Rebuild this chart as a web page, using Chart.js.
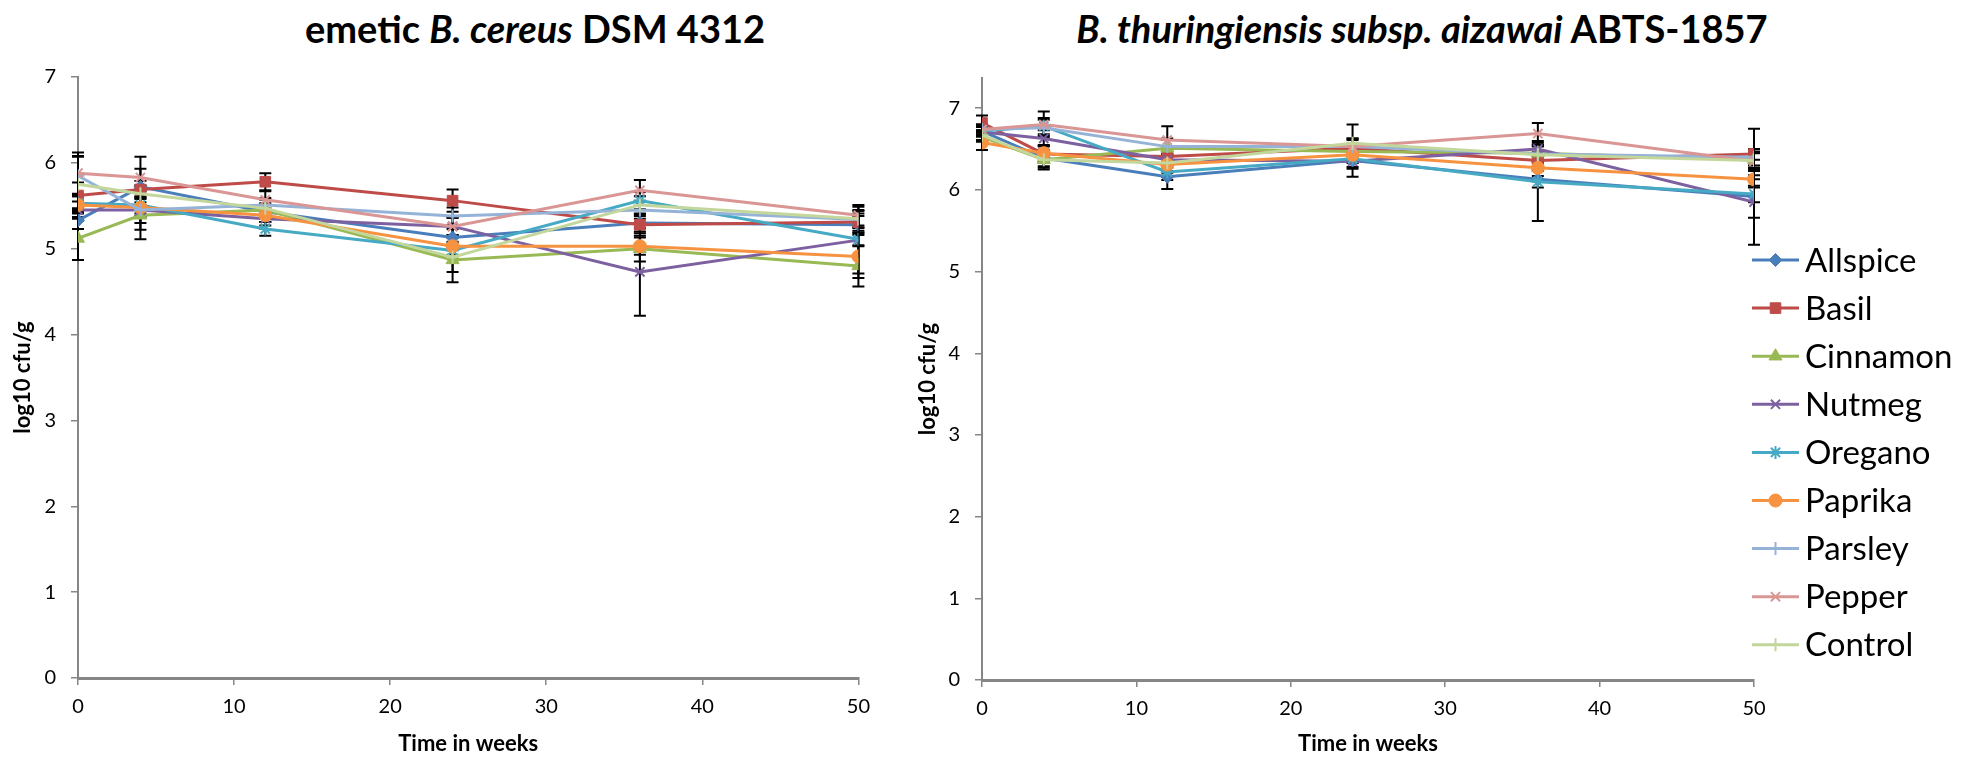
<!DOCTYPE html>
<html><head><meta charset="utf-8">
<script src="https://cdn.jsdelivr.net/npm/chart.js@4.4.1/dist/chart.umd.min.js"></script>
<style>
html,body{margin:0;padding:0;background:#fff;width:1980px;height:757px;overflow:hidden;}
#wrap{position:relative;width:1980px;height:757px;}
.title{position:absolute;top:5px;font-family:Lato,"Open Sans",sans-serif;font-weight:bold;font-size:38px;line-height:46px;white-space:nowrap;transform:translateX(-50%);color:#000;}
canvas{position:absolute;top:0;}
</style></head><body>
<div id="wrap">
<div class="title" style="left:535px">emetic <i>B. cereus</i> DSM 4312</div>
<div class="title" style="left:1422px"><i>B. thuringiensis subsp. aizawai</i> ABTS-1857</div>
<canvas id="c1" width="880" height="757" style="left:0;width:880px;height:757px"></canvas>
<canvas id="c2" width="1100" height="757" style="left:880px;width:1100px;height:757px"></canvas>
</div>
<script>
// ---- data ----
const weeks = [0, 4, 12, 24, 36, 50];
const seriesNames = ['Allspice','Basil','Cinnamon','Nutmeg','Oregano','Paprika','Parsley','Pepper','Control'];
const xTicks = [0, 10, 20, 30, 40, 50];
const yTicks = [0, 1, 2, 3, 4, 5, 6, 7];

// emetic B. cereus DSM 4312 (log10 cfu/g)
const cerAllspice = [5.33, 5.72, 5.43, 5.13, 5.30, 5.28];
const cerBasil    = [5.62, 5.69, 5.78, 5.56, 5.28, 5.31];
const cerCinnamon = [5.12, 5.39, 5.45, 4.87, 5.00, 4.80];
const cerNutmeg   = [5.45, 5.45, 5.35, 5.26, 4.73, 5.10];
const cerOregano  = [5.53, 5.51, 5.23, 4.98, 5.56, 5.11];
const cerPaprika  = [5.51, 5.48, 5.39, 5.03, 5.03, 4.91];
const cerParsley  = [5.85, 5.45, 5.51, 5.38, 5.45, 5.34];
const cerPepper   = [5.88, 5.83, 5.57, 5.26, 5.68, 5.39];
const cerControl  = [5.75, 5.64, 5.47, 4.90, 5.51, 5.35];
// error bars (+/-)
const cerAllspiceErr = [0.10, 0.35, 0.08, 0.10, 0.10, 0.10];
const cerBasilErr    = [0.15, 0.10, 0.10, 0.13, 0.10, 0.10];
const cerCinnamonErr = [0.25, 0.28, 0.08, 0.26, 0.15, 0.24];
const cerNutmegErr   = [0.10, 0.23, 0.08, 0.10, 0.51, 0.39];
const cerOreganoErr  = [0.08, 0.10, 0.08, 0.10, 0.10, 0.08];
const cerPaprikaErr  = [0.10, 0.10, 0.08, 0.10, 0.10, 0.25];
const cerParsleyErr  = [0.22, 0.15, 0.08, 0.10, 0.10, 0.10];
const cerPepperErr   = [0.24, 0.10, 0.10, 0.10, 0.12, 0.12];
const cerControlErr  = [0.33, 0.10, 0.10, 0.17, 0.10, 0.10];

// B. thuringiensis subsp. aizawai ABTS-1857 (log10 cfu/g)
const btAllspice = [6.72, 6.39, 6.16, 6.36, 6.13, 5.92];
const btBasil    = [6.82, 6.44, 6.41, 6.51, 6.36, 6.44];
const btCinnamon = [6.65, 6.37, 6.51, 6.47, 6.45, 6.37];
const btNutmeg   = [6.71, 6.63, 6.37, 6.35, 6.50, 5.85];
const btOregano  = [6.72, 6.78, 6.22, 6.38, 6.10, 5.95];
const btPaprika  = [6.58, 6.45, 6.31, 6.43, 6.27, 6.13];
const btParsley  = [6.74, 6.76, 6.53, 6.53, 6.44, 6.40];
const btPepper   = [6.74, 6.80, 6.61, 6.53, 6.69, 6.35];
const btControl  = [6.67, 6.37, 6.33, 6.57, 6.43, 6.36];
const btAllspiceErr = [0.06, 0.10, 0.15, 0.10, 0.10, 0.26];
const btBasilErr    = [0.09, 0.10, 0.10, 0.10, 0.10, 0.31];
const btCinnamonErr = [0.06, 0.12, 0.10, 0.10, 0.10, 0.10];
const btNutmegErr   = [0.06, 0.10, 0.10, 0.19, 0.10, 0.52];
const btOreganoErr  = [0.06, 0.10, 0.10, 0.10, 0.48, 0.10];
const btPaprikaErr  = [0.09, 0.10, 0.10, 0.10, 0.10, 0.10];
const btParsleyErr  = [0.06, 0.10, 0.10, 0.10, 0.10, 0.10];
const btPepperErr   = [0.06, 0.16, 0.17, 0.10, 0.13, 0.10];
const btControlErr  = [0.06, 0.10, 0.10, 0.23, 0.10, 0.10];

// ---- styles ----
const colors = ['#4A7EBB','#BE4B48','#98B954','#7D60A0','#46AAC5','#F69240','#95B3D7','#D99694','#C3D69B'];
const markers = ['rectRot','rect','triangle','crossRot','star','circle','cross','crossRot','cross'];
const radii = [6.5, 7.5, 7.5, 6.5, 6.5, 6.5, 6.5, 6.5, 6.5];
const FONT = 'Lato, "Open Sans", sans-serif';

function makeSets(vals, errs){
  return vals.map((v, i) => ({
    label: seriesNames[i],
    data: weeks.map((w, j) => ({x: w, y: v[j]})),
    errors: errs[i],
    borderColor: colors[i],
    backgroundColor: colors[i],
    pointBackgroundColor: colors[i],
    pointBorderColor: colors[i],
    pointStyle: markers[i],
    pointRadius: radii[i],
    pointBorderWidth: (markers[i]==='cross'||markers[i]==='crossRot'||markers[i]==='star') ? 2 : 1,
    borderWidth: 3,
    tension: 0,
    order: seriesNames.length - i
  }));
}

const errorBarPlugin = {
  id: 'errbars',
  beforeDatasetsDraw(chart){
    const ctx = chart.ctx, xs = chart.scales.x, ys = chart.scales.y;
    ctx.save();
    ctx.strokeStyle = '#000'; ctx.lineWidth = 2;
    chart.data.datasets.forEach(ds => {
      ds.data.forEach((p, i) => {
        const e = ds.errors[i]; if (!e) return;
        const x = xs.getPixelForValue(p.x);
        const y1 = ys.getPixelForValue(p.y + e), y2 = ys.getPixelForValue(p.y - e);
        ctx.beginPath();
        ctx.moveTo(x, y1); ctx.lineTo(x, y2);
        ctx.moveTo(x - 6, y1); ctx.lineTo(x + 6, y1);
        ctx.moveTo(x - 6, y2); ctx.lineTo(x + 6, y2);
        ctx.stroke();
      });
    });
    ctx.restore();
  }
};

const sideLegendPlugin = {
  id: 'sideLegend',
  afterDraw(chart, args, opts){
    if (!opts || !opts.show) return;
    const ctx = chart.ctx;
    ctx.save();
    chart.data.datasets.forEach((ds, i) => {
      const y = opts.y0 + i * opts.dy;
      ctx.strokeStyle = ds.borderColor; ctx.lineWidth = 3;
      ctx.beginPath(); ctx.moveTo(opts.x0, y); ctx.lineTo(opts.x0 + opts.len, y); ctx.stroke();
      ctx.fillStyle = ds.borderColor; ctx.strokeStyle = ds.borderColor;
      ctx.lineWidth = ds.pointBorderWidth;
      Chart.helpers.drawPoint(ctx, {pointStyle: ds.pointStyle, radius: ds.pointRadius, borderWidth: ds.pointBorderWidth, rotation: 0}, opts.x0 + opts.len/2, y);
      ctx.fillStyle = '#000';
      ctx.font = opts.font;
      ctx.textBaseline = 'middle'; ctx.textAlign = 'left';
      ctx.fillText(ds.label, opts.x0 + opts.len + 6, y + 1);
    });
    ctx.restore();
  }
};

function makeChart(id, vals, errs, cfg){
  return new Chart(document.getElementById(id), {
    type: 'line',
    data: { datasets: makeSets(vals, errs) },
    plugins: [errorBarPlugin, sideLegendPlugin],
    options: {
      responsive: false, animation: false, devicePixelRatio: 1,
      layout: { padding: cfg.padding },
      plugins: {
        legend: { display: false }, tooltip: { enabled: false },
        sideLegend: cfg.legend || { show: false }
      },
      scales: {
        x: {
          type: 'linear', min: 0, max: 50,
          afterBuildTicks: s => { s.ticks = xTicks.map(v => ({value: v})); },
          afterFit: s => { s.height = cfg.xHeight; },
          grid: { display: true, drawOnChartArea: false, drawTicks: true, tickLength: 7, color: '#868686', lineWidth: 1.5 },
          border: { display: true, color: '#868686', width: 3 },
          ticks: { color: '#000', font: { family: FONT, size: 20 }, padding: 10, maxRotation: 0 },
          title: { display: true, text: 'Time in weeks', color: '#000', font: { family: FONT, size: 22, weight: 'bold' }, padding: { top: 0, bottom: 0 }, align: 'center' }
        },
        y: {
          type: 'linear', min: 0, max: cfg.ymax,
          afterBuildTicks: s => { s.ticks = yTicks.map(v => ({value: v})); },
          afterFit: s => { s.width = cfg.yWidth; },
          grid: { display: true, drawOnChartArea: false, drawTicks: true, tickLength: 7, color: '#868686', lineWidth: 1.5 },
          border: { display: true, color: '#868686', width: 2 },
          ticks: { color: '#000', font: { family: FONT, size: 20 }, padding: 15 },
          title: { display: true, text: 'log10 cfu/g', color: '#000', font: { family: FONT, size: 22, weight: 'bold' }, padding: { top: cfg.yTitlePad, bottom: 0 } }
        }
      }
    }
  });
}

const cerVals = [cerAllspice, cerBasil, cerCinnamon, cerNutmeg, cerOregano, cerPaprika, cerParsley, cerPepper, cerControl];
const cerErrs = [cerAllspiceErr, cerBasilErr, cerCinnamonErr, cerNutmegErr, cerOreganoErr, cerPaprikaErr, cerParsleyErr, cerPepperErr, cerControlErr];
const btVals = [btAllspice, btBasil, btCinnamon, btNutmeg, btOregano, btPaprika, btParsley, btPepper, btControl];
const btErrs = [btAllspiceErr, btBasilErr, btCinnamonErr, btNutmegErr, btOreganoErr, btPaprikaErr, btParsleyErr, btPepperErr, btControlErr];

makeChart('c1', cerVals, cerErrs, {
  padding: { top: 77, right: 14, bottom: 0, left: 0 },
  xHeight: 79, yWidth: 78, ymax: 7, yTitlePad: 10
});
makeChart('c2', btVals, btErrs, {
  padding: { top: 78, right: 226, bottom: 0, left: 0 },
  xHeight: 77, yWidth: 102, ymax: 7.37, yTitlePad: 35,
  legend: { show: true, x0: 872, len: 47, y0: 260, dy: 48.1, font: '33px ' + FONT }
});
</script>
</body></html>
